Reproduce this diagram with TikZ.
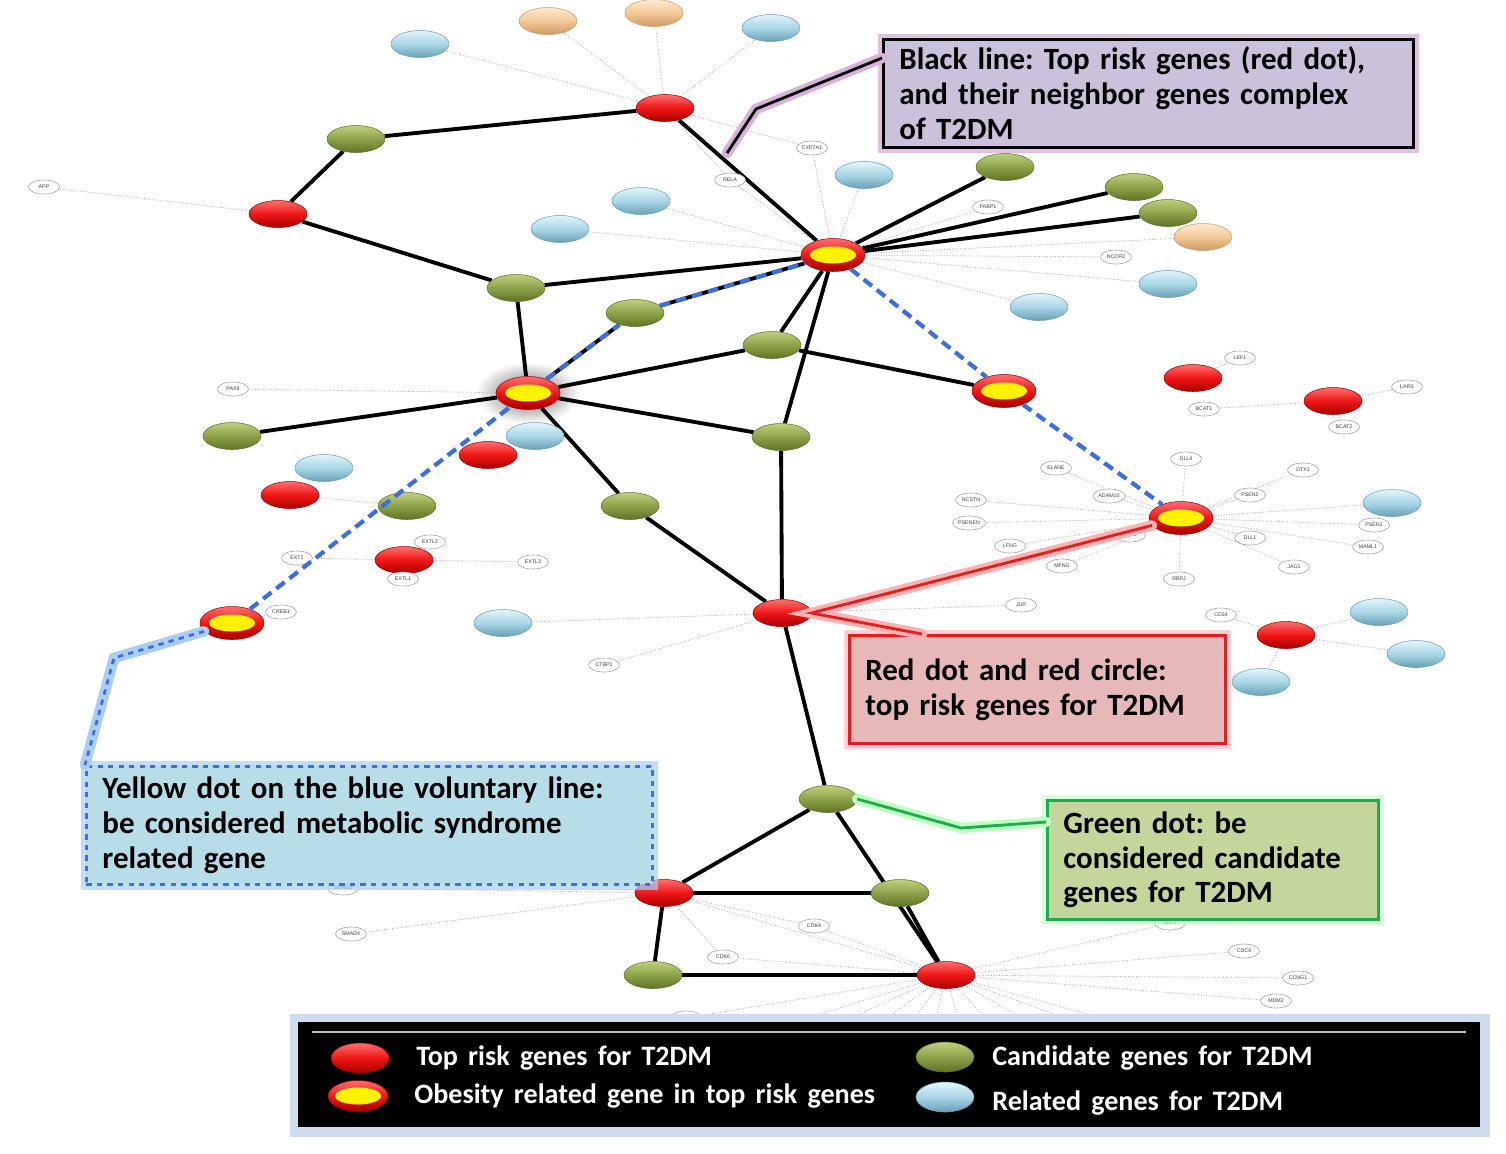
\documentclass[tikz,border=0pt]{standalone}
\usepackage{fontspec}
\setmainfont{Carlito}[WordSpace=1.6]
\setsansfont{Liberation Sans}
\usetikzlibrary{shapes.geometric,calc}
\definecolor{risk}{RGB}{240,22,22}
\definecolor{risklight}{RGB}{255,110,110}
\definecolor{riskdark}{RGB}{165,0,0}
\definecolor{cand}{RGB}{140,162,72}
\definecolor{candlight}{RGB}{190,208,125}
\definecolor{canddark}{RGB}{95,115,38}
\definecolor{rel}{RGB}{168,214,230}
\definecolor{rellight}{RGB}{228,245,251}
\definecolor{reldark}{RGB}{105,160,182}
\definecolor{peach}{RGB}{244,200,150}
\definecolor{peachlight}{RGB}{253,234,210}
\definecolor{peachdark}{RGB}{205,155,100}
\definecolor{voluntary}{RGB}{60,110,225}
\definecolor{volglow}{RGB}{170,205,245}
\definecolor{keyglow}{RGB}{205,220,238}
\definecolor{notepurple}{RGB}{204,193,218}
\definecolor{notered}{RGB}{230,184,183}
\definecolor{notegreen}{RGB}{195,214,155}
\definecolor{noteblue}{RGB}{183,222,232}
\definecolor{boxgreen}{RGB}{30,172,78}
\definecolor{boxred}{RGB}{228,30,30}
\pgfdeclarelayer{bg}
\pgfsetlayers{bg,main}

\begin{document}
\frenchspacing
\begin{tikzpicture}[x=0.02cm, y=-0.02cm,
    dotbase/.style={ellipse, inner sep=0pt, minimum width=1.16cm, minimum height=0.54cm, line width=0.3pt},
    riskdot/.style={dotbase, draw=riskdark, top color=risklight, bottom color=riskdark, middle color=risk},
    obdot/.style={riskdot, minimum width=1.28cm, minimum height=0.66cm,
      path picture={\fill[yellow] (path picture bounding box.center) ellipse (0.46cm and 0.17cm);}},
    canddot/.style={dotbase, draw=canddark, top color=candlight, bottom color=canddark, middle color=cand},
    reldot/.style={dotbase, draw=reldark, top color=rellight, bottom color=reldark, middle color=rel},
    peachdot/.style={dotbase, draw=peachdark, top color=peachlight, bottom color=peachdark, middle color=peach},
    lbl/.style={ellipse, draw=gray!70, fill=white, line width=0.35pt, inner sep=0.5pt,
      minimum width=0.62cm, minimum height=0.28cm, text=black!75,
      font=\sffamily\fontsize{3}{3.5}\selectfont},
    link/.style={line width=2.2pt},
    nb/.style={gray!60, densely dotted, line width=0.5pt},
    vol/.style={voluntary, line width=2.4pt, dash pattern=on 6pt off 3.5pt},
    note/.style={anchor=north west, align=left, inner xsep=0.32cm, line width=1.6pt,
      font=\bfseries\fontsize{17.6}{19.8}\selectfont},
    keytxt/.style={anchor=west, text=white, inner sep=0pt, font=\bfseries\fontsize{16}{18}\selectfont}]
\useasboundingbox (0,0) rectangle (1506,1153);

% related genes and others
\node[reldot] (cyan1) at (420,44) {};
\node[reldot] (cyan2) at (771,28) {};
\node[reldot] (cyan3) at (864,175) {};
\node[reldot] (cyan4) at (641,201) {};
\node[reldot] (cyan5) at (560,229) {};
\node[reldot] (cyan6) at (1168,284) {};
\node[reldot] (cyan7) at (1039,307) {};
\node[reldot] (cyan8) at (535,436) {};
\node[reldot] (cyan9) at (324,468) {};
\node[reldot] (cyan10) at (1392,503) {};
\node[reldot] (cyan11) at (503,623) {};
\node[reldot] (cyan12) at (1379,612) {};
\node[reldot] (cyan13) at (1416,654) {};
\node[reldot] (cyan14) at (1261,682) {};
\node[peachdot] (peach1) at (548,21) {};
\node[peachdot] (peach2) at (654,13) {};
\node[peachdot] (peach3) at (1203,237) {};

% candidate genes
\node[canddot] (grn1) at (356,139) {};
\node[canddot] (grn2) at (1005,167) {};
\node[canddot] (grn3) at (1134,187) {};
\node[canddot] (grn4) at (1168,213) {};
\node[canddot] (grn5) at (516,288) {};
\node[canddot] (grn6) at (635,313) {};
\node[canddot] (grn7) at (772,345) {};
\node[canddot] (grn8) at (232,436) {};
\node[canddot] (grn9) at (781,437) {};
\node[canddot] (grn10) at (407,506) {};
\node[canddot] (grn11) at (630,506) {};
\node[canddot] (grn12) at (828,799) {};
\node[canddot] (grn13) at (900,893) {};
\node[canddot] (grn14) at (653,975) {};

% top risk genes
\node[riskdot] (red1) at (665,108) {};
\node[riskdot] (red2) at (278,214) {};
\node[riskdot] (red3) at (488,455) {};
\node[riskdot] (red4) at (290,495) {};
\node[riskdot] (red5) at (1193,378) {};
\node[riskdot] (red6) at (1333,401) {};
\node[riskdot] (red7) at (404,560) {};
\node[riskdot] (red8) at (782,613) {};
\node[riskdot] (red9) at (1286,635) {};
\node[riskdot] (red10) at (664,893) {};
\node[riskdot] (red11) at (946,975) {};
\node[obdot] (ob1) at (833,255) {};
\node[obdot] (ob2) at (1004,391) {};
\node[obdot] (ob3) at (528,393) {};
\node[obdot] (ob4) at (1181,518) {};
\node[obdot] (ob5) at (232,623) {};

% gene labels
\node[lbl] (app) at (44,187) {APP};
\node[lbl] (cyp) at (812,148) {CYP7A1};
\node[lbl] (rela) at (730,180) {RELA};
\node[lbl] (fabp) at (988,207) {FABP1};
\node[lbl] (ncor) at (1116,257) {NCOR2};
\node[lbl] (pax) at (233,389) {PAX8};
\node[lbl] (lef) at (1240,358) {LEF1};
\node[lbl] (lars) at (1407,387) {LARS};
\node[lbl] (bcat1) at (1204,409) {BCAT1};
\node[lbl] (bcat2) at (1344,427) {BCAT2};
\node[lbl] (dll4) at (1186,459) {DLL4};
\node[lbl] (elane) at (1056,468) {ELANE};
\node[lbl] (adam) at (1109,496) {ADAM10};
\node[lbl] (ncstn) at (971,500) {NCSTN};
\node[lbl] (psenen) at (969,523) {PSENEN};
\node[lbl] (lfng) at (1010,546) {LFNG};
\node[lbl] (jagtwo) at (1130,535) {JAG2};
\node[lbl] (mfng) at (1062,566) {MFNG};
\node[lbl] (rbpj) at (1179,579) {RBPJ};
\node[lbl] (dtx) at (1303,470) {DTX1};
\node[lbl] (psen2) at (1250,495) {PSEN2};
\node[lbl] (psen1) at (1374,525) {PSEN1};
\node[lbl] (dll1) at (1250,538) {DLL1};
\node[lbl] (maml) at (1368,547) {MAML1};
\node[lbl] (jag1) at (1294,567) {JAG1};
\node[lbl] (extl2) at (430,542) {EXTL2};
\node[lbl] (ext1) at (297,558) {EXT1};
\node[lbl] (extl1) at (403,579) {EXTL1};
\node[lbl] (extl3) at (533,562) {EXTL3};
\node[lbl] (creb) at (281,612) {CREB1};
\node[lbl] (jup) at (1021,605) {JUP};
\node[lbl] (ctbp) at (604,665) {CTBP1};
\node[lbl] (cd34) at (1221,615) {CD34};
\node[lbl] (smad3) at (343,888) {SMAD3};
\node[lbl] (smad4) at (351,934) {SMAD4};
\node[lbl] (cdk4) at (814,926) {CDK4};
\node[lbl] (cdk6) at (723,957) {CDK6};
\node[lbl] (abl) at (1170,923) {ABL1};
\node[lbl] (cdc6) at (1244,951) {CDC6};
\node[lbl] (ccng) at (1298,978) {CCNG1};
\node[lbl] (mdm2) at (1276,1001) {MDM2};
\node[lbl] (mdm4) at (686,1018) {MDM4};
\foreach \x [count=\i] in {720,790,850,895,930,965,1010,1070,1140,1200}
  \coordinate (fan\i) at (\x,1045);

\begin{pgfonlayer}{bg}
\shade[inner color=black!60, outer color=white] (ob3.center) ellipse (1.05cm and 0.62cm);
\foreach \a/\b in {red1/cyan1, red1/peach1, red1/peach2, red1/cyan2, red1/cyp, red1/rela,
    red2/app, ob1/cyp, ob1/rela, ob1/cyan3, ob1/cyan4, ob1/cyan5, ob1/fabp, ob1/peach3,
    ob1/ncor, ob1/cyan6, ob1/cyan7, ob3/pax, red4/grn10, red5/lef, red6/lars, red6/bcat1,
    red6/bcat2, ob4/dll4, ob4/elane, ob4/adam, ob4/ncstn, ob4/psenen, ob4/lfng, ob4/jagtwo,
    ob4/mfng, ob4/rbpj, ob4/dtx, ob4/psen2, ob4/cyan10, ob4/psen1, ob4/dll1, ob4/maml,
    ob4/jag1, red7/ext1, red7/extl2, red7/extl1, red7/extl3, ob5/creb, red8/cyan11,
    red8/ctbp, red8/jup, red9/cd34, red9/cyan12, red9/cyan13, red9/cyan14, red10/smad3,
    red10/smad4, red10/cdk4, red10/cdk6, red10/red11, red11/cdk4, red11/cdk6, red11/abl,
    red11/cdc6, red11/ccng, red11/mdm2, red11/mdm4, red11/grn12, red11/grn14}
  \draw[nb] (\a) -- (\b);
\foreach \i in {1,...,10}
  \draw[nb] (red11) -- (fan\i);
\foreach \a/\b in {red1/grn1, grn1/red2, red2/grn5, red1/ob1, grn5/ob1, ob1/grn2, ob1/grn3,
    ob1/grn4, ob1/grn6, ob1/grn7, ob1/grn9, grn7/ob2, grn5/ob3, ob3/grn6, ob3/grn7,
    ob3/grn9, ob3/grn8, ob3/grn11, grn11/red8, grn9/red8, red8/grn12, grn12/red10,
    grn12/red11, red10/grn13, red10/grn14, grn14/red11, grn13/red11}
  \draw[link] (\a) -- (\b);
\end{pgfonlayer}

% blue voluntary line
\draw[vol] (ob5) -- (ob3);
\draw[vol] (ob3) -- (grn6) -- (ob1) -- (ob2) -- (ob4);

% callouts
\node[note, fill=notepurple, draw=black, text width=9.96cm, minimum height=2.16cm,
  preaction={draw=violet!40, line width=6pt, opacity=0.6}] (note1) at (882,38)
  {Black line: Top risk genes (red dot),\\and their neighbor genes complex\\of T2DM};
\coordinate (kink1) at (756,109);
\coordinate (tip1) at (727,153);
\draw[violet!30, line width=6pt, line cap=round] ($(note1.north west)+(0,20)$) -- (kink1) -- (tip1);
\draw[line width=1.6pt] ($(note1.north west)+(0,20)$) -- (kink1) -- (tip1);

\node[note, fill=notered, draw=boxred, text width=6.88cm, minimum height=2.16cm,
  preaction={draw=red!30, line width=6pt, opacity=0.6}] (note2) at (848,634)
  {Red dot and red circle:\\top risk genes for T2DM};
\draw[red!30, line width=6pt, line cap=round] (ob4) -- (red8.east) -- ($(note2.north west)+(74,0)$);
\draw[boxred, line width=1.6pt] (ob4) -- (red8.east) -- ($(note2.north west)+(74,0)$);

\node[note, fill=notegreen, draw=boxgreen, text width=5.98cm, minimum height=2.38cm,
  preaction={draw=green!25, line width=6pt, opacity=0.6}] (note3) at (1046,799)
  {Green dot: be\\considered candidate\\genes for T2DM};
\coordinate (kink3) at (961,828);
\draw[green!25, line width=6pt, line cap=round] (grn12.east) -- (kink3) -- ($(note3.north west)+(0,23)$);
\draw[boxgreen, line width=1.6pt] (grn12.east) -- (kink3) -- ($(note3.north west)+(0,23)$);

\node[note, fill=noteblue, draw=voluntary, dashed, text width=10.68cm, minimum height=2.36cm,
  preaction={draw=volglow, solid, line width=6pt, opacity=0.7}] (note4) at (85,765)
  {Yellow dot on the blue voluntary line:\\be considered metabolic syndrome\\related gene};
\coordinate (kink4) at (114,658);
\draw[volglow, line width=6pt, line cap=round] (ob5) -- (kink4) -- (note4.north west);
\draw[voluntary, line width=1.6pt, dashed] (ob5) -- (kink4) -- (note4.north west);

% legend
\fill[keyglow] (290,1014) rectangle (1490,1137);
\fill[black] (298,1022) rectangle (1480,1127);
\draw[gray!50, line width=0.6pt] (312,1032) -- (1466,1032);
\node[riskdot, minimum height=0.6cm] (key1) at (360,1058) {};
\node[obdot, minimum height=0.62cm, minimum width=1.2cm] (key2) at (358,1096) {};
\node[canddot, minimum height=0.6cm] (key3) at (945,1057) {};
\node[reldot, minimum height=0.6cm] (key4) at (945,1097) {};
\node[keytxt] (keytxt1) at (416,1058) {Top risk genes for T2DM};
\node[keytxt] (keytxt2) at (414,1096) {Obesity related gene in top risk genes};
\node[keytxt] (keytxt3) at (992,1058) {Candidate genes for T2DM};
\node[keytxt] (keytxt4) at (992,1103) {Related genes for T2DM};
\end{tikzpicture}
\end{document}
